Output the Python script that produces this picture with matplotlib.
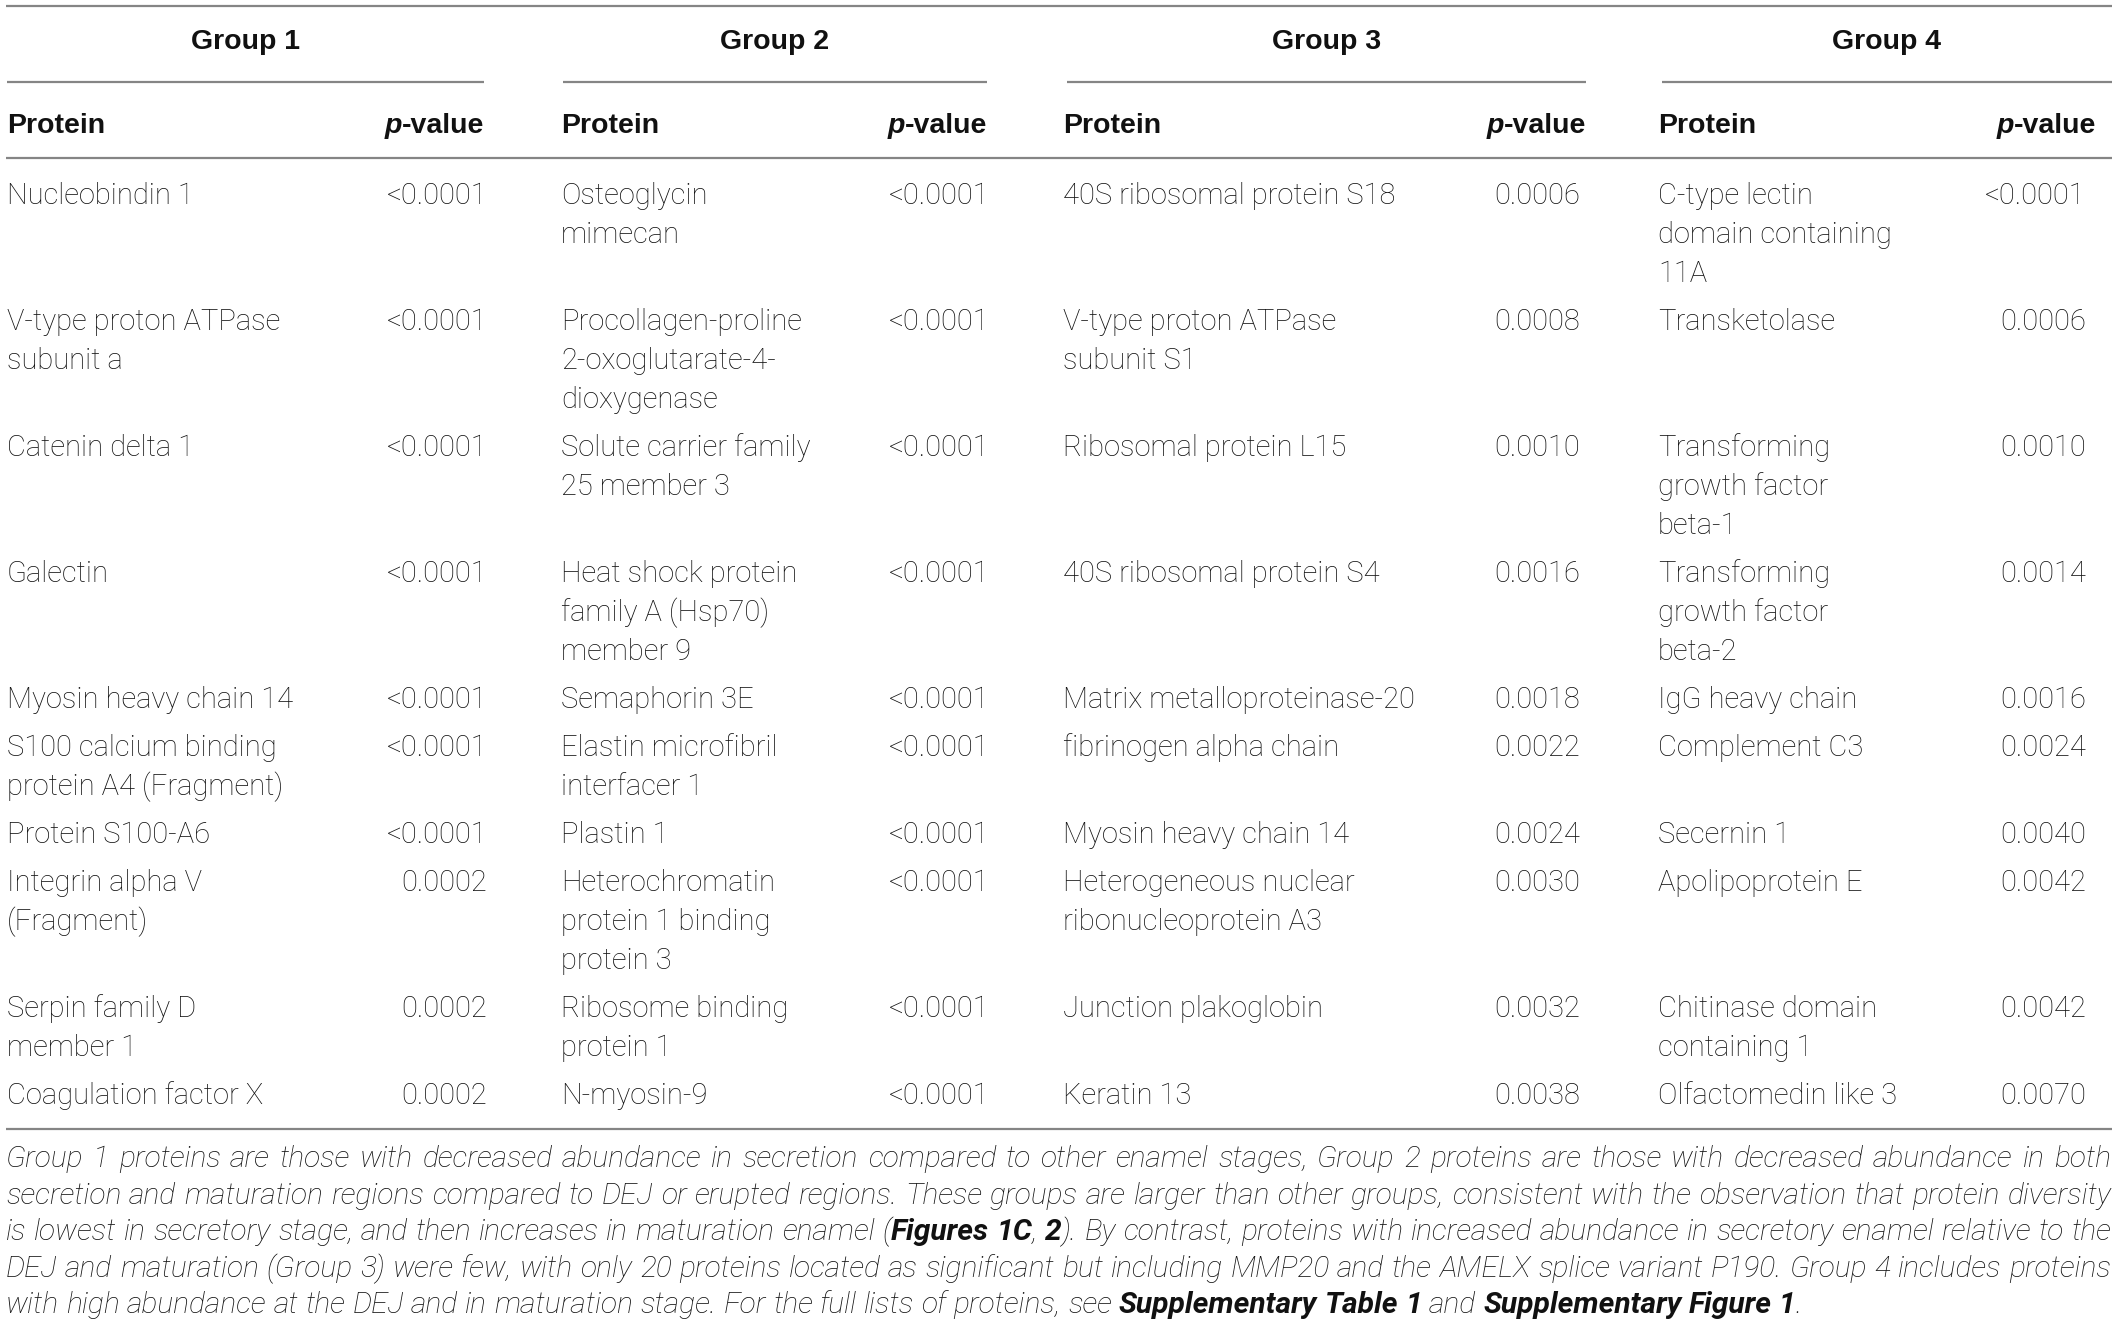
import matplotlib
matplotlib.use("Agg")
import matplotlib.pyplot as plt
from matplotlib import font_manager

# ---------------- data ----------------
groups = ["Group 1", "Group 2", "Group 3", "Group 4"]
col_protein = "Protein"
col_p_italic = "p"
col_p_rest = "-value"

g1_proteins = ["Nucleobindin 1", "V-type proton ATPase\nsubunit a", "Catenin delta 1",
               "Galectin", "Myosin heavy chain 14", "S100 calcium binding\nprotein A4 (Fragment)",
               "Protein S100-A6", "Integrin alpha V\n(Fragment)", "Serpin family D\nmember 1",
               "Coagulation factor X"]
g1_pvalues = ["<0.0001", "<0.0001", "<0.0001", "<0.0001", "<0.0001", "<0.0001", "<0.0001",
              "0.0002", "0.0002", "0.0002"]

g2_proteins = ["Osteoglycin\nmimecan", "Procollagen-proline\n2-oxoglutarate-4-\ndioxygenase",
               "Solute carrier family\n25 member 3", "Heat shock protein\nfamily A (Hsp70)\nmember 9",
               "Semaphorin 3E", "Elastin microfibril\ninterfacer 1", "Plastin 1",
               "Heterochromatin\nprotein 1 binding\nprotein 3", "Ribosome binding\nprotein 1",
               "N-myosin-9"]
g2_pvalues = ["<0.0001", "<0.0001", "<0.0001", "<0.0001", "<0.0001", "<0.0001", "<0.0001",
              "<0.0001", "<0.0001", "<0.0001"]

g3_proteins = ["40S ribosomal protein S18", "V-type proton ATPase\nsubunit S1", "Ribosomal protein L15",
               "40S ribosomal protein S4", "Matrix metalloproteinase-20", "fibrinogen alpha chain",
               "Myosin heavy chain 14", "Heterogeneous nuclear\nribonucleoprotein A3",
               "Junction plakoglobin", "Keratin 13"]
g3_pvalues = ["0.0006", "0.0008", "0.0010", "0.0016", "0.0018", "0.0022", "0.0024",
              "0.0030", "0.0032", "0.0038"]

g4_proteins = ["C-type lectin\ndomain containing\n11A", "Transketolase",
               "Transforming\ngrowth factor\nbeta-1", "Transforming\ngrowth factor\nbeta-2",
               "IgG heavy chain", "Complement C3", "Secernin 1", "Apolipoprotein E",
               "Chitinase domain\ncontaining 1", "Olfactomedin like 3"]
g4_pvalues = ["<0.0001", "0.0006", "0.0010", "0.0014", "0.0016", "0.0024", "0.0040",
              "0.0042", "0.0042", "0.0070"]

caption_lines = [
    "Group 1 proteins are those with decreased abundance in secretion compared to other enamel stages, Group 2 proteins are those with decreased abundance in both",
    "secretion and maturation regions compared to DEJ or erupted regions. These groups are larger than other groups, consistent with the observation that protein diversity",
    "is lowest in secretory stage, and then increases in maturation enamel (**Figures 1C**, **2**). By contrast, proteins with increased abundance in secretory enamel relative to the",
    "DEJ and maturation (Group 3) were few, with only 20 proteins located as significant but including MMP20 and the AMELX splice variant P190. Group 4 includes proteins",
    "with high abundance at the DEJ and in maturation stage. For the full lists of proteins, see **Supplementary Table 1** and **Supplementary Figure 1**.",
]

proteins = [g1_proteins, g2_proteins, g3_proteins, g4_proteins]
pvalues = [g1_pvalues, g2_pvalues, g3_pvalues, g4_pvalues]

# ---------------- style / layout ----------------
W, H = 2119, 1328
FONT = "Roboto"
HFONT = "Liberation Sans"
names = {(f.name, f.weight) for f in font_manager.fontManager.ttflist}
LIGHT = "light" if any(n == FONT and (w == 300 or w == "light") for n, w in names) else "normal"
FS = 21
HFS = 20.5
TXT = "#111111"
LINE = "#858585"
LW = 1.6

fig = plt.figure(figsize=(W / 100, H / 100), dpi=100)
ax = fig.add_axes([0, 0, 1, 1])
ax.set_xlim(0, W)
ax.set_ylim(H, 0)
ax.axis("off")
renderer = fig.canvas.get_renderer()

X0, X1 = 6, 2112
group_left = [7, 561, 1063, 1658]      # protein column left
group_right = [484, 987, 1586, 2096]   # p-value header right
under_left = [7, 563, 1067, 1662]
under_right = [484, 987, 1586, 2112]
value_right = [487, 989, 1580, 2086]

# horizontal rules
ax.hlines([6, 158, 1129], X0, X1, color=LINE, lw=LW)
for ul, ur in zip(under_left, under_right):
    ax.hlines(82, ul, ur, color=LINE, lw=LW)

# group headers
for g, ul, ur in zip(groups, under_left, under_right):
    ax.text((ul + ur) / 2, 49, g, ha="center", va="baseline", fontsize=HFS,
            fontfamily=HFONT, fontweight="bold", color=TXT)

# column headers
HB = 133
for gl, gr in zip(group_left, group_right):
    ax.text(gl, HB, col_protein, ha="left", va="baseline", fontsize=HFS,
            fontfamily=HFONT, fontweight="bold", color=TXT)
    t = ax.text(gr, HB, col_p_rest, ha="right", va="baseline", fontsize=HFS,
                fontfamily=HFONT, fontweight="bold", color=TXT)
    w = t.get_window_extent(renderer).width
    ax.text(gr - w, HB, col_p_italic, ha="right", va="baseline", fontsize=HFS,
            fontfamily=HFONT, fontweight="bold", fontstyle="italic", color=TXT)

# rows
LH = 39
PAD = 9
base = 204
nrows = len(g1_proteins)
for r in range(nrows):
    nl = max(len(proteins[g][r].split("\n")) for g in range(4))
    for g in range(4):
        for j, line in enumerate(proteins[g][r].split("\n")):
            ax.text(group_left[g], base + j * LH, line, ha="left", va="baseline",
                    fontsize=FS, fontfamily=FONT, fontweight=LIGHT, color=TXT)
        ax.text(value_right[g], base, pvalues[g][r], ha="right", va="baseline",
                fontsize=FS, fontfamily=FONT, fontweight=LIGHT, color=TXT)
    base += nl * LH + PAD

# caption (justified)
def parse(line, state):
    words = []
    bold = state
    for w in line.split(" "):
        parts = []
        segs = w.split("**")
        for i, s in enumerate(segs):
            if i > 0:
                bold = not bold
            if s:
                parts.append((s, bold))
        words.append(parts)
    return words, bold

def mk(x, y, s, bold, fs):
    return ax.text(x, y, s, ha="left", va="baseline", fontsize=fs, fontfamily=FONT,
                   fontstyle="italic", fontweight="bold" if bold else LIGHT, color=TXT)

def measure(s, bold, fs):
    t = mk(0, -100, s, bold, fs)
    w = t.get_window_extent(renderer).width
    t.remove()
    return w

CX0, CX1 = 6, 2111

# parse all lines
parsed = []
state = False
for line in caption_lines:
    words, state = parse(line, state)
    parsed.append(words)

# choose caption font size so natural widths fit the justified measure
base_fs = 20.0
sp0 = measure("x x", False, base_fs) - measure("xx", False, base_fs)
ratios = []
for words in parsed[:-1]:
    tw = sum(measure(s, b, base_fs) for parts in words for s, b in parts)
    nat = tw + sp0 * (len(words) - 1)
    ratios.append((CX1 - CX0) / nat)
CFS = base_fs * min(ratios) * 0.995

space_w = measure("x x", False, CFS) - measure("xx", False, CFS)
cap_base = 1167
cap_lh = 36.6
for li, words in enumerate(parsed):
    y = cap_base + li * cap_lh
    widths = [[measure(s, b, CFS) for s, b in parts] for parts in words]
    total = sum(sum(ws) for ws in widths)
    if li < len(parsed) - 1:
        gap = (CX1 - CX0 - total) / (len(words) - 1)
    else:
        gap = space_w
    x = CX0
    for parts, ws in zip(words, widths):
        for (s, b), w in zip(parts, ws):
            mk(x, y, s, b, CFS)
            x += w
        x += gap

fig.savefig("out.png", dpi=100)
